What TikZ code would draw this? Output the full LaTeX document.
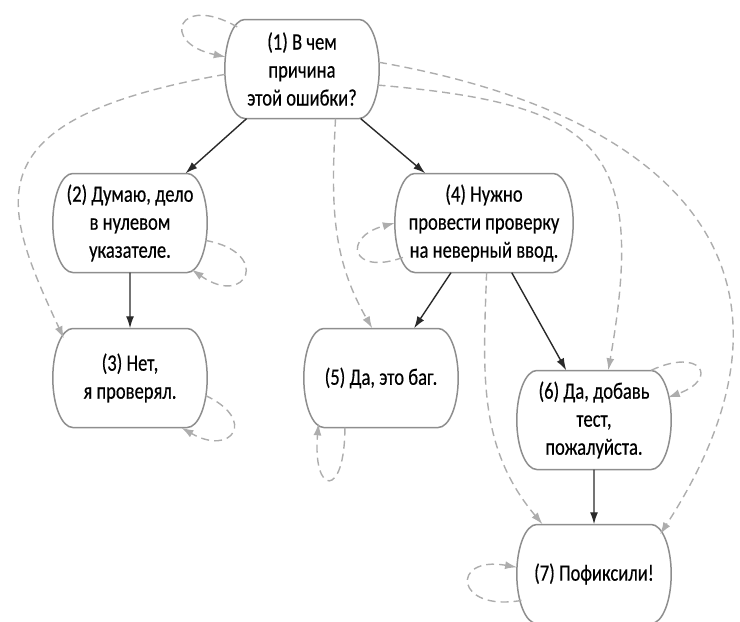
\documentclass[tikz,border=0pt]{standalone}
\usepackage{fontspec}
\setmainfont{Carlito}[FakeStretch=0.79, FakeBold=0.4]
\usetikzlibrary{arrows,arrows.meta,shapes.misc}
\definecolor{VGray}{HTML}{8E8E8E}
\definecolor{VDash}{HTML}{ADADAD}
\definecolor{VDark}{HTML}{2A2A2A}
\tikzset{
    state/.style = {rounded rectangle, rounded rectangle arc length=80,
        minimum height=99pt, minimum width=145pt, align=center,
        inner sep=2pt, font=\fontsize{23.5}{28}\selectfont},
    frame/.style = {draw=VGray, line width=1.5pt},
    arrow/.style = {draw=VDark, line width=1.4pt, ->},
    dasharrow/.style = {draw=VDash, line width=1.4pt, dash pattern=on 8pt off 5pt, ->}
}

\begin{document}
\begin{tikzpicture}[x=1pt, y=-1pt, >={Latex[length=12pt,width=8pt]}]
  \useasboundingbox (0,0) rectangle (740,622);
  \node[state] (s1) at (302,69) {(1) В чем\\причина\\этой ошибки?};
  \node[state] (s2) at (130,223) {(2) Думаю, дело\\в нулевом\\указателе.};
  \node[state] (s3) at (130,378) {(3) Нет,\\я проверял.};
  \node[state, minimum width=182pt] (s4) at (484,223) {(4) Нужно\\провести проверку\\на неверный ввод.};
  \node[state] (s5) at (381,378) {(5) Да, это баг.};
  \node[state] (s6) at (594,420) {(6) Да, добавь\\тест,\\пожалуйста.};
  \node[state] (s7) at (594,574) {(7) Пофиксили!};
  \foreach \n in {s1,s2,s3,s4,s5,s6,s7}
    \draw[frame] (\n.west) arc[start angle=180, end angle=90, x radius=20pt, y radius=49.5pt]
      -- ([xshift=-20pt, yshift=49.5pt]\n.east) arc[start angle=90, end angle=-90, x radius=20pt, y radius=49.5pt]
      -- ([xshift=20pt, yshift=-49.5pt]\n.west) arc[start angle=270, end angle=180, x radius=20pt, y radius=49.5pt]
      -- cycle;

  \draw[arrow] (s1) -- (s2);
  \draw[arrow] (s1) -- (s4);
  \draw[arrow] (s2) -- (s3);
  \draw[arrow] (s4) -- (s5);
  \draw[arrow] (s4) -- (s6);
  \draw[arrow] (s6) -- (s7);

  \draw[dasharrow] (s1.147) to[out=150, in=168, distance=68pt] (s1.171);
  \draw[dasharrow] (s2.-13) to[out=-10, in=-35, distance=68pt] (s2.-37);
  \draw[dasharrow] (s3.-13) to[out=-25, in=-30, distance=58pt] (s3.-44);
  \draw[dasharrow] (s4.203) to[out=200, in=195, distance=55pt] (s4.180);
  \draw[dasharrow] (s5.234) to[out=270, in=265, distance=72pt] (s5.216);
  \draw[dasharrow] (s6.41) to[out=25, in=20, distance=55pt] (s6.17);
  \draw[dasharrow] (s7.200) to[out=190, in=170, distance=68pt] (s7.175);

  \draw[dasharrow] (s1.184) to[out=190, in=115, out distance=260pt, in distance=150pt] (s3.149);
  \draw[dasharrow] (s1.-56) to[out=-93, in=120] (s5.100);
  \draw[dasharrow] (s1.-12) to[out=-5, in=80, out distance=220pt, in distance=230pt] (s6.74);
  \draw[dasharrow] (s1.5) to[out=-10, in=57, out distance=320pt, in distance=300pt] (s7.31);
  \draw[dasharrow] (s4.-87) to[out=-92, in=130] (s7.136);
\end{tikzpicture}
\end{document}
